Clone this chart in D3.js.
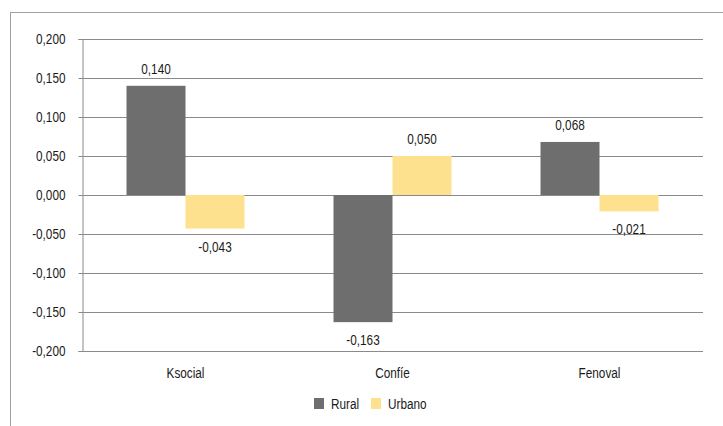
<!DOCTYPE html>
<html><head><meta charset="utf-8">
<script src="https://cdn.jsdelivr.net/npm/d3@7"></script>
<style>
html,body{margin:0;padding:0;background:#fff;}
text{font-family:"Liberation Sans",Arial,sans-serif;fill:#1a1a1a;}
</style></head>
<body>
<svg id="c" width="723" height="426"></svg>
<script>
const categories = ["Ksocial", "Confíe", "Fenoval"];
const seriesNames = ["Rural", "Urbano"];
const rural = [0.140, -0.163, 0.068];
const urbano = [-0.043, 0.050, -0.021];
const yTicks = [-0.2, -0.15, -0.1, -0.05, 0, 0.05, 0.1, 0.15, 0.2];
const colors = ["#6e6e6e", "#fde18f"];

const SX = 0.76; // condensed look
const FS = "15.5px";
const svg = d3.select("#c");
const m = {l: 82, r: 703, t: 39, b: 351};
const fmt = v => d3.format(".3f")(v).replace(".", ",").replace("−", "-");

// helper: condensed text at (x,y)
function ctext(sel, x, y, anchor) {
  const g = sel.append("g").attr("transform", `translate(${x},${y})`);
  return g.append("text").attr("transform", `scale(${SX},1)`)
    .attr("text-anchor", anchor || "middle").style("font-size", FS);
}

// outer frame
svg.append("line").attr("x1",10.5).attr("x2",10.5).attr("y1",12.5).attr("y2",426).attr("stroke","#a0a0a0");
svg.append("line").attr("x1",10).attr("x2",723).attr("y1",12.5).attr("y2",12.5).attr("stroke","#a0a0a0");

const y = d3.scaleLinear().domain([-0.2, 0.2]).range([m.b, m.t]);
const x0 = d3.scaleBand().domain(categories).range([m.l, m.r]).paddingInner(0.43).paddingOuter(0.215);
const x1 = d3.scaleBand().domain(seriesNames).range([0, x0.bandwidth()]);

// gridlines
svg.append("g").selectAll("line").data(yTicks).join("line")
  .attr("x1", m.l).attr("x2", m.r)
  .attr("y1", d => Math.round(y(d)) + 0.5).attr("y2", d => Math.round(y(d)) + 0.5)
  .attr("stroke", "#8a8a8a").attr("stroke-width", 1);

// y axis
const ya = svg.append("g").attr("transform", `translate(${m.l + 0.5},0)`)
  .call(d3.axisLeft(y).tickValues(yTicks).tickSize(4).tickPadding(13).tickFormat(fmt));
ya.select(".domain").attr("stroke", "#8a8a8a");
ya.selectAll(".tick line").attr("stroke", "#8a8a8a");
ya.selectAll(".tick").attr("transform", d => `translate(0,${Math.round(y(d)) + 0.5})`);
ya.selectAll("text").style("font-size", FS).attr("fill", "#1a1a1a").style("font-family", null)
  .attr("x", -17 / SX).attr("transform", `scale(${SX},1)`);

const data = categories.map((c, i) => ({c, vals: [{s: "Rural", v: rural[i]}, {s: "Urbano", v: urbano[i]}]}));

const g = svg.append("g").selectAll("g").data(data).join("g")
  .attr("transform", d => `translate(${x0(d.c)},0)`);

g.selectAll("rect").data(d => d.vals).join("rect")
  .attr("x", d => x1(d.s))
  .attr("width", x1.bandwidth())
  .attr("y", d => y(Math.max(0, d.v)))
  .attr("height", d => Math.abs(y(d.v) - y(0)))
  .attr("fill", (d, i) => colors[i]);

g.each(function(d) {
  const sel = d3.select(this);
  d.vals.forEach(p => {
    ctext(sel, x1(p.s) + x1.bandwidth() / 2, p.v >= 0 ? y(p.v) - 12 : y(p.v) + 23).text(fmt(p.v));
  });
});

// category labels
categories.forEach(c => {
  ctext(svg, x0(c) + x0.bandwidth() / 2, 378).text(c);
});

// legend
const legX = [314, 371];
seriesNames.forEach((s, i) => {
  svg.append("rect").attr("x", legX[i]).attr("y", 398).attr("width", 10).attr("height", 11).attr("fill", colors[i]);
  ctext(svg, legX[i] + 17, 409, "start").text(s);
});
</script>
</body></html>
